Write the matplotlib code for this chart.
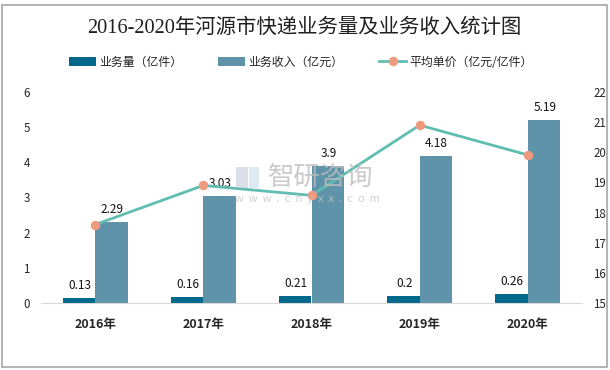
import matplotlib
matplotlib.use("Agg")
import matplotlib.pyplot as plt
from matplotlib.patches import Rectangle

plt.rcParams['font.family'] = ['Noto Sans CJK SC', 'DejaVu Sans']

years = ["2016年", "2017年", "2018年", "2019年", "2020年"]
volume = [0.13, 0.16, 0.21, 0.2, 0.26]
revenue = [2.29, 3.03, 3.9, 4.18, 5.19]
unit_price = [17.6, 18.9, 18.57, 20.9, 19.91]
left_ticks = [0, 1, 2, 3, 4, 5, 6]
right_ticks = [15, 16, 17, 18, 19, 20, 21, 22]

W, H = 610, 370
text_color = "#262626"

fig = plt.figure(figsize=(W / 100, H / 100), dpi=100)
fig.patches.append(Rectangle((2 / W, 1 - 367 / H), 605 / W, 362 / H, transform=fig.transFigure,
                             fill=False, edgecolor="#a6a6a6", linewidth=1.2))

# zona del grafico in pixel: x 41-582, y 92-303
ax = fig.add_axes([41 / W, 1 - 303 / H, 541 / W, 211 / H])
x = list(range(len(years)))
bar_w = 0.3
bars1 = ax.bar([i - bar_w / 2 for i in x], volume, bar_w, color="#00688b", label="业务量（亿件）")
bars2 = ax.bar([i + bar_w / 2 for i in x], revenue, bar_w, color="#5f93aa", label="业务收入（亿元）")
ax.set_xlim(-0.5, 4.5)
ax.set_ylim(0, 6)
ax.set_yticks(left_ticks)
ax.set_xticks(x)
ax.set_xticklabels(years, fontsize=9, fontweight='bold', color=text_color)
ax.tick_params(axis='y', length=0, labelsize=8.3, labelcolor=text_color, pad=8)
ax.tick_params(axis='x', length=0, pad=11)
for s in ['top', 'left', 'right']:
    ax.spines[s].set_visible(False)
ax.spines['bottom'].set_color("#d9d9d9")

for bars, values in ((bars1, volume), (bars2, revenue)):
    for b, v in zip(bars, values):
        ax.annotate(str(v), (b.get_x() + b.get_width() / 2, v), xytext=(0.5, 9), textcoords='offset points',
                    ha='center', va='center', fontsize=8.5, fontweight='medium', color="#111111", zorder=6)

ax2 = ax.twinx()
line, = ax2.plot(x, unit_price, color="#5fbdb2", linewidth=2, marker='o', markersize=5.8,
                 markerfacecolor="#ee9a7e", markeredgecolor="#ee9a7e", label="平均单价（亿元/亿件）")
ax2.set_ylim(15, 22)
ax2.set_yticks(right_ticks)
ax2.tick_params(axis='y', length=0, labelsize=8.3, labelcolor=text_color, pad=8)
for s in ax2.spines.values():
    s.set_visible(False)

# watermark
fig.text(268 / W, 1 - 177 / H, "智研咨询", fontsize=19, color="#bdbdbd", ha='left', va='center', alpha=0.8)
fig.text(235 / W, 1 - 199 / H, "w  w  w  .  c  h  y  x  x  .  c  o  m", fontsize=8, color="#c4c4c4",
         ha='left', va='center', alpha=0.8)
fig.patches.append(Rectangle((236 / W, 1 - 188 / H), 12 / W, 21 / H, transform=fig.transFigure,
                             facecolor="#c3cbdc", edgecolor='none', alpha=0.6))
fig.patches.append(Rectangle((249 / W, 1 - 188 / H), 10 / W, 21 / H, transform=fig.transFigure,
                             facecolor="#c5dcee", edgecolor='none', alpha=0.6))

fig.text(304.5 / W, 1 - 28 / H, "2016-2020年河源市快递业务量及业务收入统计图", fontsize=14.7, fontweight='medium',
         family=['Liberation Serif', 'Noto Sans CJK SC'], color="#1f1f1f", ha='center', va='center')
fig.legend(handles=[bars1, bars2, line], loc='center', bbox_to_anchor=(301 / W, 1 - 62 / H), ncol=3,
           frameon=False, fontsize=8.6, handlelength=2.27, handleheight=0.75, handletextpad=0.25,
           columnspacing=3.0, labelcolor=text_color)

fig.savefig("out.png", dpi=100)
